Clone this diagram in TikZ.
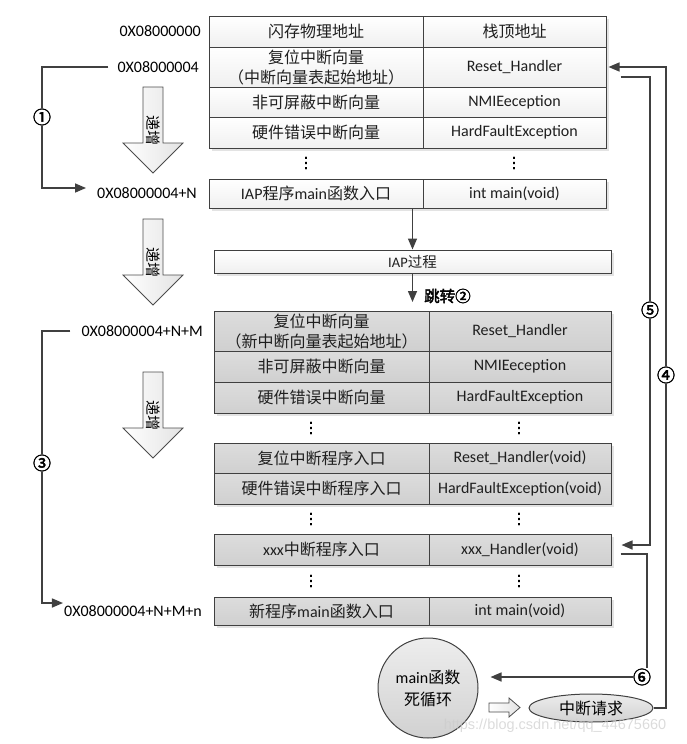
\documentclass[tikz,border=0pt]{standalone}
\usepackage{fontspec}
\setmainfont{Carlito}
\newfontfamily\zh{Noto Sans CJK SC}
\newfontfamily\zhb[FakeBold=2.5]{Noto Sans CJK SC}
\newfontfamily\dvb[FakeBold=2]{DejaVu Sans}
\newfontfamily\wmfont{Liberation Sans}
\usetikzlibrary{arrows.meta,calc,shapes.geometric}
\definecolor{lc}{HTML}{404040}
\tikzset{
 cellA/.style={draw=lc, line width=1pt, top color=white, bottom color=gray!12, inner sep=0pt,
   font=\fontsize{16}{20}\selectfont, align=center, text=black!88},
 cellB/.style={cellA, top color=gray!27, bottom color=gray!37},
 addr/.style={font=\fontsize{16}{18}\selectfont, inner sep=0pt},
 conn/.style={draw=lc, line width=1.5pt, -{Triangle[length=11pt,width=9pt]}},
 num/.style={font=\zhb\fontsize{18}{18}\selectfont, fill=white, inner sep=0.5pt},
 hollow/.style={draw=gray!60!black, line width=0.8pt, left color=white, right color=gray!22},
 vdotsnode/.style={font=\dvb\fontsize{15}{15}\selectfont, inner sep=0pt},
 incr/.style={rotate=-90, font=\zh\fontsize{15}{15}\selectfont, inner sep=0pt},
 shadowbox/.style={fill=gray!22}
}
\begin{document}
\begin{tikzpicture}[x=1pt,y=-1pt]
\useasboundingbox (0,0) rectangle (686,744);
% ---------- top table ----------
\fill[shadowbox] (212,19) rectangle (609,151);
\node[cellA, minimum width=214pt, minimum height=31pt] (a0l) at (316,31.5) {\zh 闪存物理地址};
\node[cellA, minimum width=183pt, minimum height=31pt] (a0r) at (514.5,31.5) {\zh 栈顶地址};
\node[cellA, minimum width=214pt, minimum height=40pt] (a1l) at (316,67) {\zh 复位中断向量\\\zh （中断向量表起始地址）};
\node[cellA, minimum width=183pt, minimum height=40pt] (a1r) at (514.5,67) {Reset\_Handler};
\node[cellA, minimum width=214pt, minimum height=30pt] (a2l) at (316,102) {\zh 非可屏蔽中断向量};
\node[cellA, minimum width=183pt, minimum height=30pt] (a2r) at (514.5,102) {NMIEeception};
\node[cellA, minimum width=214pt, minimum height=31pt] (a3l) at (316,132.5) {\zh 硬件错误中断向量};
\node[cellA, minimum width=183pt, minimum height=31pt] (a3r) at (514.5,132.5) {HardFaultException};
\node[vdotsnode] (d1l) at (306,163) {⋮};
\node[vdotsnode] (d1r) at (514,163) {⋮};
\fill[shadowbox] (212,182) rectangle (609,211);
\node[cellA, minimum width=214pt, minimum height=29pt] (iapl) at (316,193.5) {IAP{\zh 程序}main{\zh 函数入口}};
\node[cellA, minimum width=183pt, minimum height=29pt] (iapr) at (514.5,193.5) {int main(void)};
% ---------- IAP process ----------
\fill[shadowbox] (217,253) rectangle (614,276);
\node[cellA, minimum width=397pt, minimum height=23pt, font=\fontsize{14.5}{16}\selectfont] (iap) at (412.5,261.5) {IAP{\zh 过程}};
\draw[conn] (iap.north |- iapl.south) -- (iap.north);
\coordinate (j2) at (412.5,302);
\draw[conn] (iap.south) -- (j2);
\node[anchor=west, font=\zhb\fontsize{15.5}{15.5}\selectfont, inner sep=0pt] (jump) at (424,296) {跳转②};
% ---------- new vector table ----------
\fill[shadowbox] (217,314) rectangle (614,416);
\node[cellB, minimum width=215pt, minimum height=40pt] (b1l) at (321.5,331) {\zh 复位中断向量\\\zh （新中断向量表起始地址）};
\node[cellB, minimum width=182pt, minimum height=40pt] (b1r) at (520,331) {Reset\_Handler};
\node[cellB, minimum width=215pt, minimum height=31pt] (b2l) at (321.5,366.5) {\zh 非可屏蔽中断向量};
\node[cellB, minimum width=182pt, minimum height=31pt] (b2r) at (520,366.5) {NMIEeception};
\node[cellB, minimum width=215pt, minimum height=31pt] (b3l) at (321.5,397.5) {\zh 硬件错误中断向量};
\node[cellB, minimum width=182pt, minimum height=31pt] (b3r) at (520,397.5) {HardFaultException};
\node[vdotsnode] (d2l) at (311,428) {⋮};
\node[vdotsnode] (d2r) at (519,428) {⋮};
\fill[shadowbox] (217,446) rectangle (614,507);
\node[cellB, minimum width=215pt, minimum height=30pt] (c1l) at (321.5,458) {\zh 复位中断程序入口};
\node[cellB, minimum width=182pt, minimum height=30pt] (c1r) at (520,458) {Reset\_Handler(void)};
\node[cellB, minimum width=215pt, minimum height=31pt] (c2l) at (321.5,488.5) {\zh 硬件错误中断程序入口};
\node[cellB, minimum width=182pt, minimum height=31pt] (c2r) at (520,488.5) {HardFaultException(void)};
\node[vdotsnode] (d3l) at (311,519) {⋮};
\node[vdotsnode] (d3r) at (519,519) {⋮};
\fill[shadowbox] (217,537) rectangle (614,568);
\node[cellB, minimum width=215pt, minimum height=31pt] (x3l) at (321.5,549.5) {xxx{\zh 中断程序入口}};
\node[cellB, minimum width=182pt, minimum height=31pt] (x3r) at (520,549.5) {xxx\_Handler(void)};
\node[vdotsnode] (d4l) at (311,581) {⋮};
\node[vdotsnode] (d4r) at (519,581) {⋮};
\fill[shadowbox] (217,600) rectangle (614,628);
\node[cellB, minimum width=215pt, minimum height=28pt] (m1l) at (321.5,611) {\zh 新程序\rmfamily main\zh 函数入口};
\node[cellB, minimum width=182pt, minimum height=28pt] (m1r) at (520,611) {int main(void)};
% ---------- addresses ----------
\node[addr, anchor=east] (l0) at (201,31) {0X08000000};
\node[addr, anchor=east] (l1) at (199,67) {0X08000004};
\node[addr, anchor=east] (l1n) at (197,193) {0X08000004+N};
\node[addr, anchor=east] (l2) at (203,331) {0X08000004+N+M};
\node[addr, anchor=east] (l2n) at (202,611) {0X08000004+N+M+n};
% ---------- hollow down arrows ----------
\draw[hollow] (143,87) -- (163,87) -- (163,143) -- (183,143) -- (153,173) -- (123,143) -- (143,143) -- cycle;
\node[incr] (inc1) at (153,130) {递增};
\draw[hollow] (143,219) -- (163,219) -- (163,275) -- (183,275) -- (153,305) -- (123,275) -- (143,275) -- cycle;
\node[incr] (inc2) at (153,262) {递增};
\draw[hollow] (143,372) -- (163,372) -- (163,428) -- (183,428) -- (153,458) -- (123,428) -- (143,428) -- cycle;
\node[incr] (inc3) at (153,415) {递增};
% ---------- left brackets ----------
\draw[conn] ($(l1.west)+(-9,0)$) -| (42,188) -- ($(l1n.west)+(-11,-5)$);
\node[num] (n1) at (42,117) {①};
\draw[conn] ($(l2.west)+(-11,0)$) -| (42,603) -- ($(l2n.west)+(-1,-8)$);
\node[num] (n3) at (42,463) {③};
% ---------- bottom: main loop and interrupt ----------
\node[circle, draw=lc, line width=1pt, minimum size=100pt, inner sep=0pt, top color=gray!14, bottom color=gray!36,
  align=center, font=\fontsize{16}{22}\selectfont] (mainc) at (428,688) {main{\zh 函数}\\{\zh 死循环}};
\node[ellipse, draw=lc, line width=1pt, minimum width=124pt, minimum height=28pt, inner sep=0pt,
  top color=gray!15, bottom color=gray!35, font=\zh\fontsize{16}{16}\selectfont] (req) at (591,708) {中断请求};
\draw[hollow] (489,703) -- (509,703) -- (509,698) -- (520,707.5) -- (509,717) -- (509,712) -- (489,712) -- cycle;
% ---------- right connectors ----------
\draw[conn] (req.east) -| (666,67) -- ($(a1r.east)+(2,0)$);
\node[num] (n4) at (666,375) {④};
\draw[conn] ($(a1r.east)+(14,10)$) -| (650,545) -- ($(x3r.east)+(10,-4.5)$);
\node[num] (n5) at (650,310) {⑤};
\draw[conn] ($(x3r.east)+(9,4.5)$) -| (647,677) -- ($(mainc.east)+(12,-11)$);
\node[num] (n6) at (642,677) {⑥};
% ---------- watermark ----------
\node[font=\wmfont\fontsize{14.5}{15}\selectfont, text=gray!40, opacity=0.7, inner sep=0pt] (wm) at (555,726) {https://blog.csdn.net/qq\_44675660};
\end{tikzpicture}
\end{document}
